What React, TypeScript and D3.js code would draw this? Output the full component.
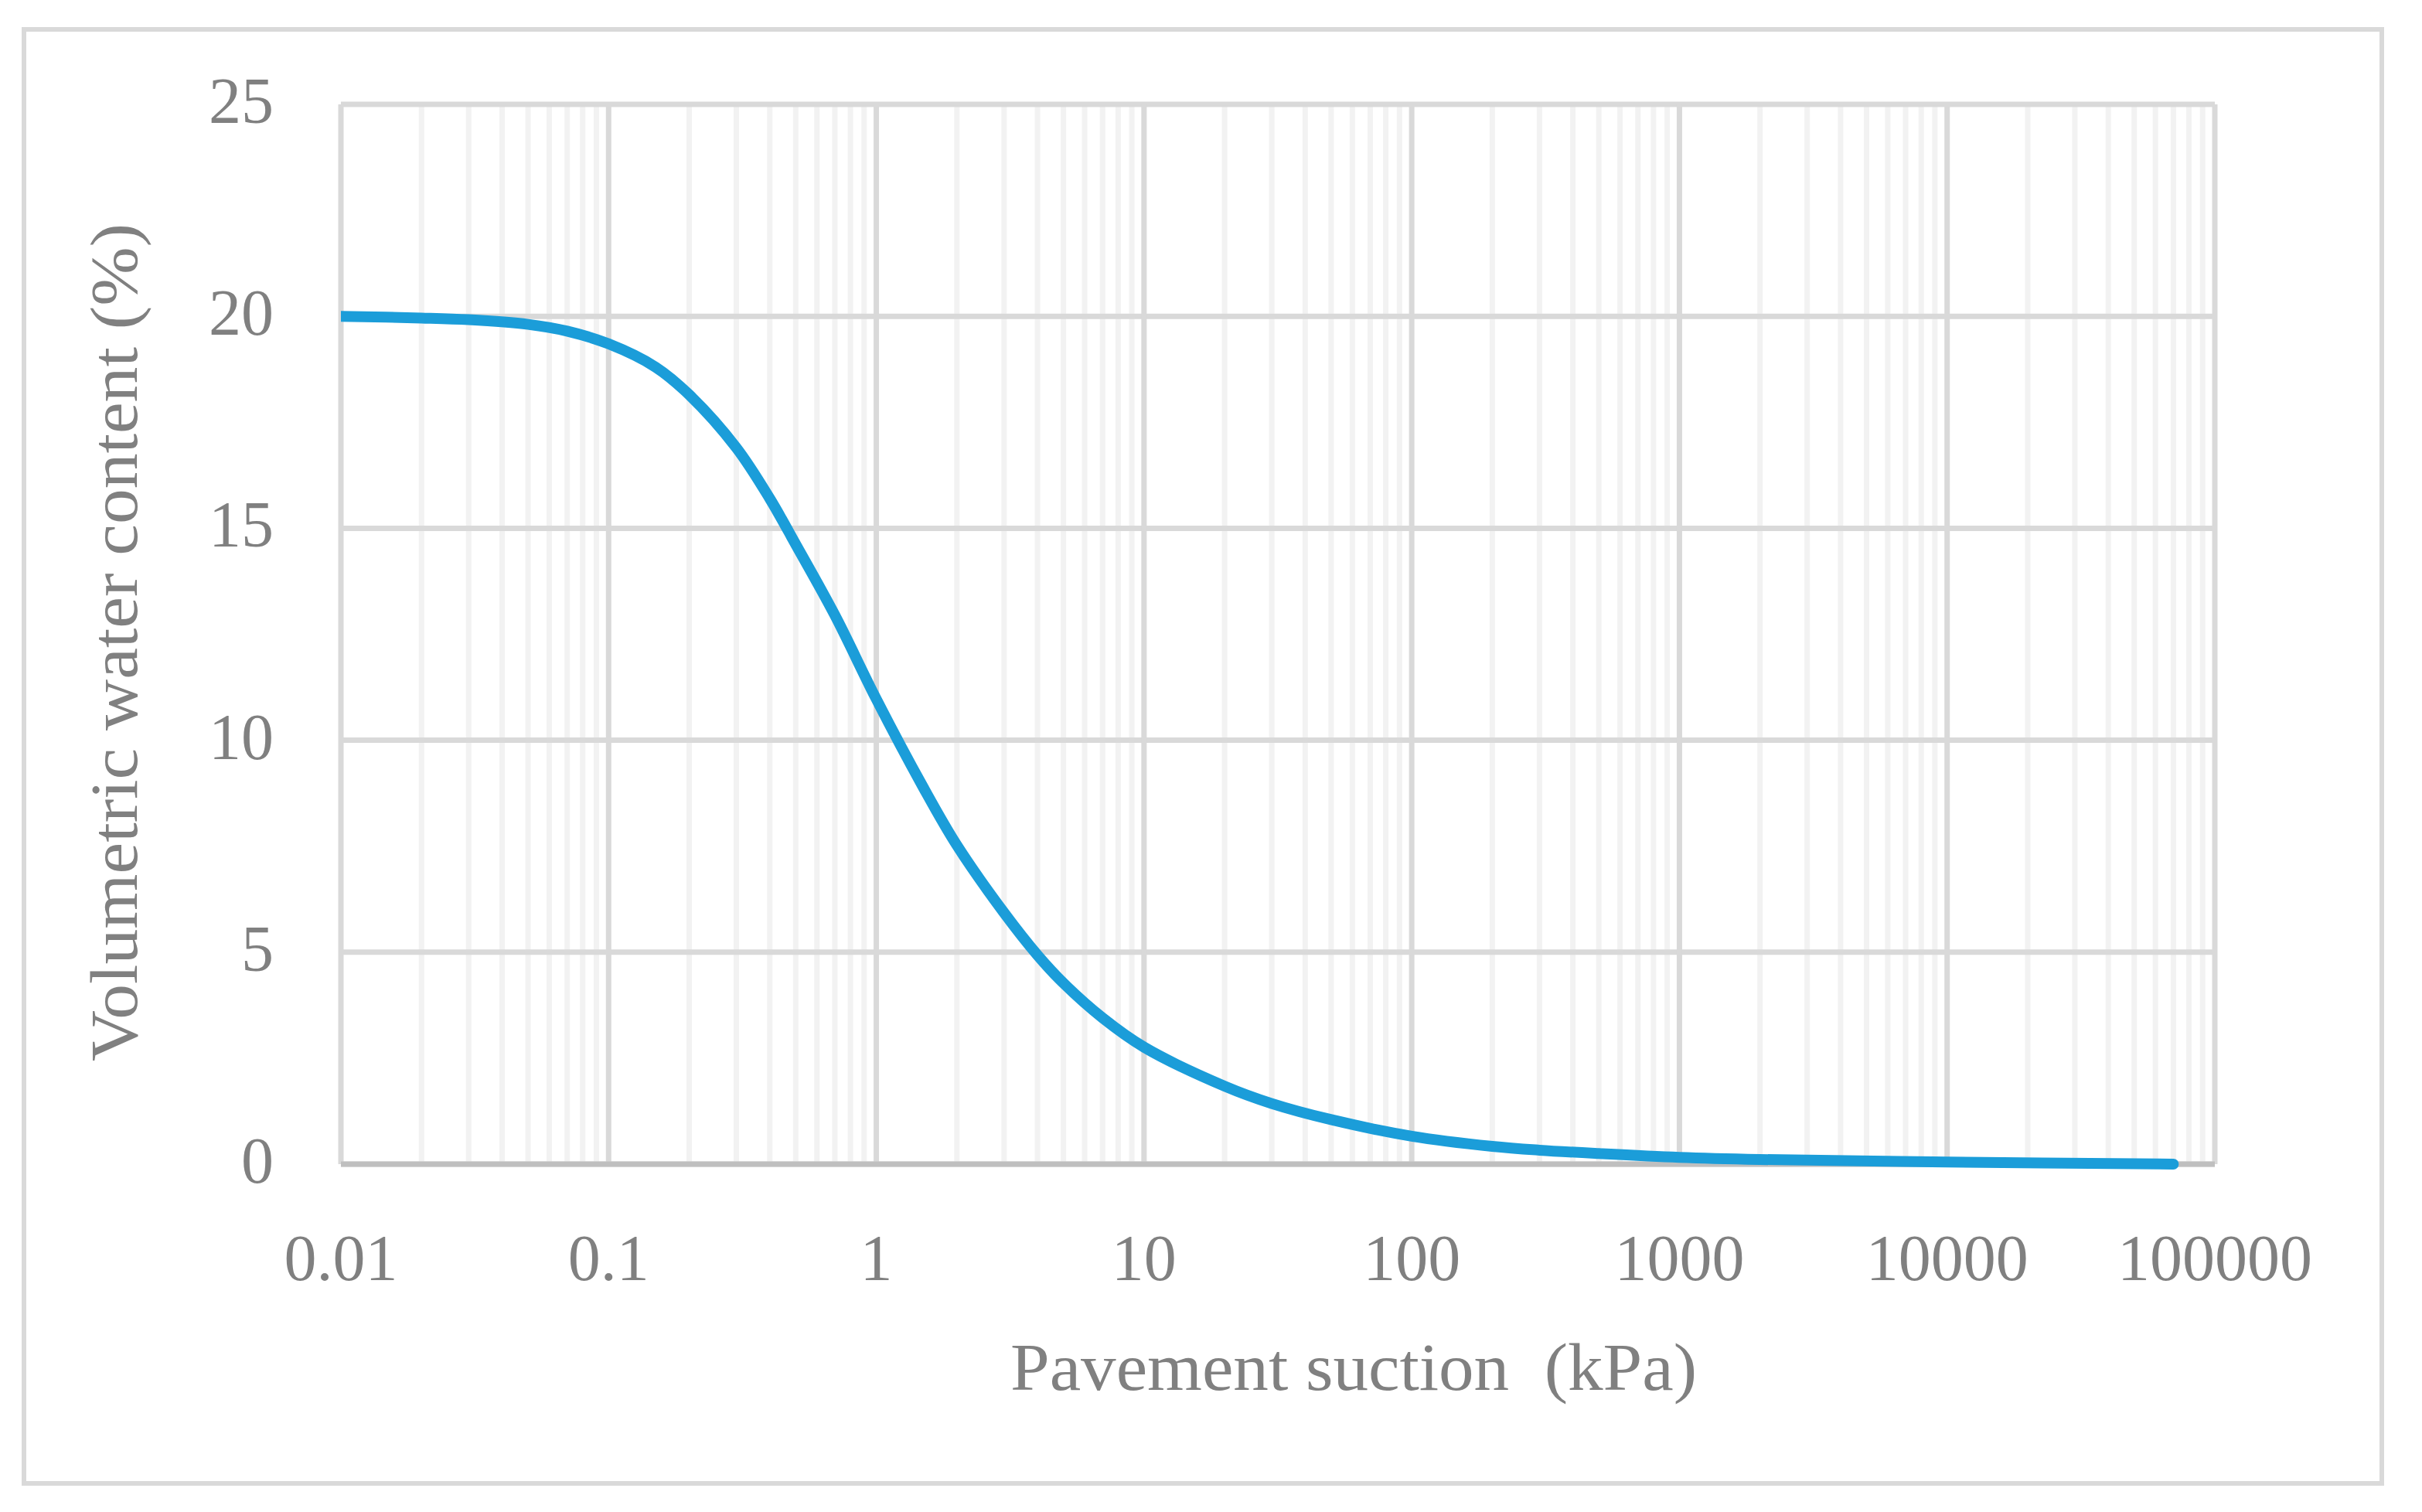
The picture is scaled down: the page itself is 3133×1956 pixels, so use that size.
import React from "react";
import * as d3 from "d3";

const suction = [0.01, 0.02, 0.03, 0.05, 0.07, 0.1, 0.15, 0.2, 0.3, 0.4, 0.5, 0.7, 1, 1.5, 2, 3, 4, 5, 7, 10, 20, 30, 50, 100, 200, 300, 500, 1000, 2000, 10000, 70000];
const waterContent = [20.0, 19.96, 19.92, 19.81, 19.65, 19.35, 18.8, 18.15, 16.9, 15.7, 14.62, 12.95, 10.97, 8.88, 7.52, 5.93, 4.93, 4.27, 3.45, 2.76, 1.84, 1.43, 1.05, 0.66, 0.42, 0.33, 0.25, 0.16, 0.11, 0.05, 0.0];
const xTickValues = [0.01, 0.1, 1, 10, 100, 1000, 10000, 100000];
const xTickLabels = ["0.01", "0.1", "1", "10", "100", "1000", "10000", "100000"];
const yTickValues = [0, 5, 10, 15, 20, 25];
const xTitle = "Pavement suction  (kPa)";
const yTitle = "Volumetric water content (%)";

const W = 3133;
const H = 1956;
const FONT = "'Palatino Linotype', 'Book Antiqua', Palatino, 'Liberation Serif', serif";
const TEXT = "#808080";

export default function App() {
  const x = d3.scaleLog().domain([0.01, 100000]).range([441, 2865]);
  const y = d3.scaleLinear().domain([0, 25]).range([1506, 135]);
  const allTicks = x.ticks();
  const minorTicks = allTicks.filter((t) => {
    const l = Math.log10(t);
    return Math.abs(l - Math.round(l)) > 1e-6;
  });
  const pts = suction.map((s, i) => [s, waterContent[i]] as [number, number]);
  const line = d3
    .line<[number, number]>()
    .x((d) => x(d[0]))
    .y((d) => y(d[1]))
    .curve(d3.curveCatmullRom.alpha(0.5));

  return (
    <svg
      width={W}
      height={H}
      style={{ position: "absolute", left: 0, top: 0, display: "block", background: "#fff" }}
    >
      <rect x={0} y={0} width={W} height={H} fill="#fff" />
      <rect x={31} y={38} width={3081 - 31} height={1919 - 38} fill="#fff" stroke="#d9d9d9" strokeWidth={6} />
      <defs>
        <clipPath id="plotClip">
          <rect x={441} y={100} width={2600} height={1500} />
        </clipPath>
      </defs>
      {minorTicks.map((t, i) => (
        <line key={"mn" + i} x1={x(t)} x2={x(t)} y1={y(25)} y2={y(0)} stroke="#f2f2f2" strokeWidth={7} />
      ))}
      {yTickValues.map((v) => (
        <line key={"hy" + v} x1={x(0.01)} x2={x(100000)} y1={y(v)} y2={y(v)} stroke="#d9d9d9" strokeWidth={7} />
      ))}
      {xTickValues.map((v) => (
        <line key={"mj" + v} x1={x(v)} x2={x(v)} y1={y(25)} y2={y(0)} stroke="#d9d9d9" strokeWidth={7} />
      ))}
      <line x1={x(0.01)} x2={x(100000)} y1={y(0)} y2={y(0)} stroke="#bfbfbf" strokeWidth={7} />
      <path
        d={line(pts) || ""}
        fill="none"
        stroke="#1b9dd9"
        strokeWidth={14}
        strokeLinecap="round"
        strokeLinejoin="round"
        clipPath="url(#plotClip)"
      />
      {xTickValues.map((v, i) => (
        <text key={"xl" + v} x={x(v)} y={1656} textAnchor="middle" fontFamily={FONT} fontSize={84} fill={TEXT}>
          {xTickLabels[i]}
        </text>
      ))}
      {yTickValues.map((v) => (
        <text key={"yl" + v} x={354} y={y(v) + 24} textAnchor="end" fontFamily={FONT} fontSize={84} fill={TEXT}>
          {String(v)}
        </text>
      ))}
      <text
        x={1751}
        y={1798}
        textAnchor="middle"
        fontFamily={FONT}
        fontSize={86}
        fill={TEXT}
        textLength={888}
        lengthAdjust="spacingAndGlyphs"
        style={{ whiteSpace: "pre" }}
      >
        {xTitle}
      </text>
      <text
        transform={`translate(177, 831) rotate(-90)`}
        textAnchor="middle"
        fontFamily={FONT}
        fontSize={86}
        fill={TEXT}
        textLength={1084}
        lengthAdjust="spacingAndGlyphs"
      >
        {yTitle}
      </text>
    </svg>
  );
}
